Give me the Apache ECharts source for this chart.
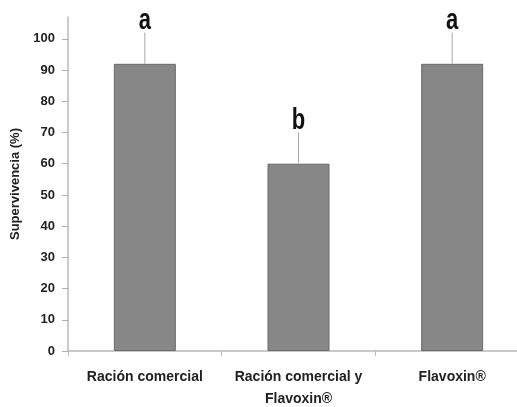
<!DOCTYPE html>
<html>
<head>
<meta charset="utf-8">
<script src="https://cdn.jsdelivr.net/npm/echarts@6/dist/echarts.min.js"></script>
<style>html,body{margin:0;padding:0;background:#fff;}#c{width:517px;height:407px;}</style>
</head>
<body>
<div id="c"></div>
<script>
const categories = ['Ración comercial', 'Ración comercial y\nFlavoxin®', 'Flavoxin®'];
const survival = [92, 60, 92];
const errorUpper = [10, 10, 10];
const letters = ['a', 'b', 'a'];
const yTicks = [0, 10, 20, 30, 40, 50, 60, 70, 80, 90, 100];

const errData = survival.map((v, i) => [i, v, v + errorUpper[i]]);

const chart = echarts.init(document.getElementById('c'));
chart.setOption({
  animation: false,
  backgroundColor: '#ffffff',
  grid: { left: 68, width: 461, top: 17, height: 334, outerBoundsMode: 'none', containLabel: false },
  xAxis: {
    type: 'category',
    data: categories,
    axisLine: { lineStyle: { color: '#b8b8b8', width: 1.5 } },
    axisTick: { show: true, length: 5, lineStyle: { color: '#b8b8b8' } },
    axisLabel: {
      interval: 0, hideOverlap: false,
      margin: 15, color: '#222', fontWeight: 'bold', fontSize: 14,
      fontFamily: 'Liberation Sans', lineHeight: 22
    }
  },
  yAxis: {
    type: 'value',
    min: 0, max: 107,
    name: 'Supervivencia (%)',
    nameLocation: 'middle',
    nameGap: 44,
    nameTextStyle: { color: '#222', fontWeight: 'bold', fontSize: 13, fontFamily: 'Liberation Sans' },
    splitLine: { show: false },
    axisLine: { show: true, lineStyle: { color: '#b8b8b8', width: 1.5 } },
    axisTick: { show: true, length: 6, customValues: yTicks, lineStyle: { color: '#b0b0b0' } },
    axisLabel: {
      customValues: yTicks, margin: 13, color: '#222', fontWeight: 'bold',
      fontSize: 13, fontFamily: 'Liberation Sans'
    }
  },
  series: [
    {
      type: 'bar',
      data: survival,
      barWidth: 62,
      itemStyle: { color: '#878787', borderColor: '#6a6a6a', borderWidth: 1 }
    },
    {
      type: 'custom',
      data: errData,
      encode: { x: 0, y: 1 },
      z: 5,
      renderItem: function (params, api) {
        const x = api.value(0);
        const p0 = api.coord([x, api.value(1)]);
        const p1 = api.coord([x, api.value(2)]);
        return {
          type: 'group',
          children: [
            { type: 'line', shape: { x1: p0[0], y1: p0[1], x2: p1[0], y2: p1[1] },
              style: { stroke: '#a8a8a8', lineWidth: 1 } },
            { type: 'text', x: p1[0], y: p1[1] + 3, scaleY: 1.3,
              style: { text: letters[params.dataIndex], x: 0, y: 0,
              textAlign: 'center', textVerticalAlign: 'bottom',
              font: 'bold 22px "Liberation Sans"', fill: '#111' } }
          ]
        };
      }
    }
  ]
});
</script>
</body>
</html>
